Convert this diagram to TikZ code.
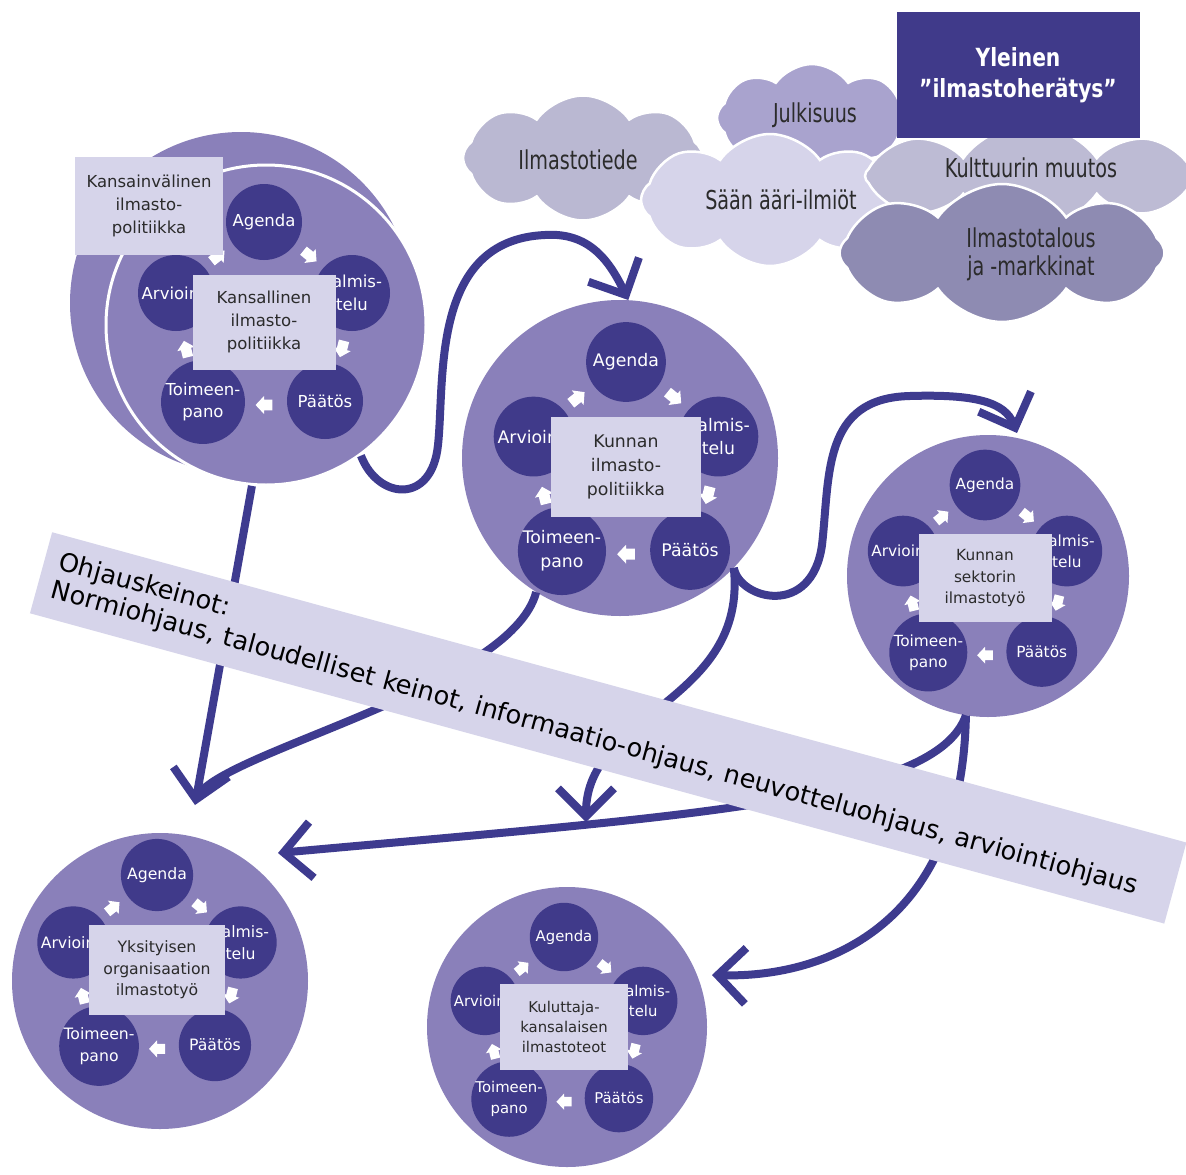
\documentclass[tikz,border=0pt]{standalone}
\usepackage{fontspec}
\setmainfont{DejaVu Sans}
\newfontfamily\cloudfont[FakeStretch=0.82]{DejaVu Sans Condensed}
\newfontfamily\titlefont[FakeStretch=0.9]{DejaVu Sans Condensed}
\usetikzlibrary{shapes.symbols,arrows.meta,calc}

\definecolor{ringfill}{HTML}{8A80BA}
\definecolor{stepfill}{HTML}{403A8A}
\definecolor{boxfill}{HTML}{D6D4EA}
\definecolor{flow}{HTML}{3E3B8F}
\definecolor{inktext}{HTML}{2B2B2B}
\definecolor{cloudA}{HTML}{BAB8D2}
\definecolor{cloudB}{HTML}{A9A3CE}
\definecolor{cloudC}{HTML}{D6D4EA}
\definecolor{cloudD}{HTML}{BDBBD4}
\definecolor{cloudE}{HTML}{8E8BB2}

\tikzset{
  ring/.style={circle, fill=ringfill, inner sep=0pt},
  stepdisc/.style={circle, fill=stepfill, text=white, align=center, inner sep=0pt},
  centrebox/.style={fill=boxfill, text=inktext, align=center, inner sep=0pt},
  puff/.style={cloud, cloud puffs=8, cloud puff arc=110, cloud ignores aspect, draw=white, line width=2.5pt, inner sep=0pt},
  cloudtext/.style={text=inktext, align=center, font=\cloudfont\fontsize{26}{28}\selectfont},
  flowline/.style={draw=flow, line width=8pt, -{Straight Barb[length=28pt,width=56pt]}},
  flowplain/.style={draw=flow, line width=8pt},
}

% small white block arrow between two steps of a cycle
\newcommand\stepmark[4]{% #1 x, #2 y, #3 direction in degrees, #4 scale
  \fill[white, shift={(#1,#2)}, rotate=#3, scale=#4]
    (-8,-5) -- (0,-5) -- (0,-8.5) -- (8,0) -- (0,8.5) -- (0,5) -- (-8,5) -- cycle;}

% five-step policy cycle with its title box in the middle
\newcommand\cycleunit[5]{% #1 prefix, #2 x, #3 y, #4 cycle radius, #5 title
  \pgfmathsetmacro\unitdisc{0.38*#4}%
  \pgfmathsetmacro\unitfont{0.165*#4}%
  \pgfmathsetmacro\unitskip{0.226*#4}%
  \pgfmathsetmacro\unitmark{#4/95}%
  \begin{scope}[shift={(#2,#3)}, every node/.append style={font=\fontsize{\unitfont}{\unitskip}\selectfont}]
    \node[stepdisc, minimum size={2*\unitdisc}] (#1-a) at (0,{-#4}) {Agenda};
    \node[stepdisc, minimum size={2*\unitdisc}] (#1-v) at ({0.88*#4},{-0.29*#4}) {Valmis-\\telu};
    \node[stepdisc, minimum size={2*\unitdisc}] (#1-p) at ({0.61*#4},{0.79*#4}) {Päätös};
    \node[stepdisc, minimum size={2*\unitdisc}] (#1-t) at ({-0.61*#4},{0.80*#4}) {Toimeen-\\pano};
    \node[stepdisc, minimum size={2*\unitdisc}] (#1-r) at ({-0.88*#4},{-0.29*#4}) {Arviointi};
    \stepmark{0.46*#4}{-0.66*#4}{-39}{\unitmark}
    \stepmark{0.78*#4}{0.27*#4}{-104}{\unitmark}
    \stepmark{0}{0.83*#4}{180}{\unitmark}
    \stepmark{-0.78*#4}{0.27*#4}{104}{\unitmark}
    \stepmark{-0.46*#4}{-0.66*#4}{39}{\unitmark}
    \node[centrebox, minimum width={1.43*#4}, minimum height={0.95*#4}] (#1-box) at (0,0) {#5};
  \end{scope}}

\begin{document}
\begin{tikzpicture}[x=1pt, y=-1pt]
\useasboundingbox (0,0) rectangle (1186,1175);
\fill[white] (0,0) rectangle (1186,1175);

% ---- clouds of the general climate awakening ----
\node[puff, fill=cloudA, minimum width=240pt, minimum height=125pt] (c-tiede) at (583,158) {};
\node[puff, fill=cloudB, minimum width=190pt, minimum height=108pt] (c-julk) at (812,118) {};
\node[puff, fill=cloudC, minimum width=258pt, minimum height=132pt] (c-saa) at (770,200) {};
\node[puff, fill=cloudD, minimum width=330pt, minimum height=105pt] (c-kult) at (1030,176) {};
\node[puff, fill=cloudE, minimum width=325pt, minimum height=138pt] (c-talous) at (1002,253) {};
\node[cloudtext] (t-tiede) at (578,160) {Ilmastotiede};
\node[cloudtext] (t-julk) at (815,115) {Julkisuus};
\node[cloudtext] (t-saa) at (781,200) {Sään ääri-ilmiöt};
\node[cloudtext] (t-kult) at (1031,168) {Kulttuurin muutos};
\node[cloudtext] (t-talous) at (1031,254) {Ilmastotalous\\ja -markkinat};
\node[fill=stepfill, minimum width=243pt, minimum height=126pt, text=white, align=center,
      font=\titlefont\bfseries\fontsize{25}{31}\selectfont] (yleinen) at (1018,75)
      {Yleinen\\”ilmastoherätys”};

% ---- national level (with the international circle behind) ----
\node[ring, minimum size=342pt] (k1b) at (241,303) {};
\node[ring, minimum size=320pt, draw=white, line width=3pt] (k1) at (266,325) {};
\cycleunit{u1}{264}{322}{100}{Kansallinen\\ilmasto-\\politiikka}
\node[centrebox, minimum width=148pt, minimum height=98pt, font=\fontsize{16.5}{22.7}\selectfont]
  (intl) at (149,206) {Kansainvälinen\\ilmasto-\\politiikka};

% ---- municipal level ----
\node[ring, minimum size=316pt] (k2) at (620,458) {};
\cycleunit{u2}{626}{467}{105}{Kunnan\\ilmasto-\\politiikka}

% ---- municipal sector ----
\node[ring, minimum size=282pt] (k3) at (988,576) {};
\cycleunit{u3}{985}{578}{93}{Kunnan\\sektorin\\ilmastotyö}

% ---- private organisations ----
\node[ring, minimum size=296pt] (k4) at (160,981) {};
\cycleunit{u4}{157}{970}{95}{Yksityisen\\organisaation\\ilmastotyö}

% ---- consumers and citizens ----
\node[ring, minimum size=280pt] (k5) at (567,1027) {};
\cycleunit{u5}{564}{1027}{90}{Kuluttaja-\\kansalaisen\\ilmastoteot}

% ---- arrow tips of the steering connectors ----
\coordinate (tipB) at (195,805);
\coordinate (joinC) at (198,795);
\coordinate (tipD) at (1017,433);
\coordinate (tipE) at (586,822);
\coordinate (tipF1) at (278,853);
\coordinate (tipF2) at (712,975);

% ---- connectors ----
\draw[flowline] (k1.-54) .. controls (378,500) and (432,505) .. (438,445)
  .. controls (445,380) and (430,240) .. (545,235)
  .. controls (590,232) and (610,262) .. (k2.87);
\draw[flowline] (k1.265) -- (tipB);
\draw[flowplain] (k2.-122) .. controls +(-25,95) and +(30,-45) .. (joinC);
\draw[flowline] (k2.-44) .. controls +(6,32) and (812,618) .. (822,545)
  .. controls (830,475) and (822,398) .. (910,396)
  .. controls (975,394) and (1005,402) .. (tipD);
\draw[flowline] (k2.-44) .. controls +(14,135) and +(0,-110) .. (tipE);
\draw[flowline] (k3.-99) .. controls +(-30,85) and +(420,-38) .. (tipF1);
\draw[flowline] (k3.-99) .. controls +(-4,215) and +(108,3) .. (tipF2);

% ---- steering instruments banner ----
\node[fill=boxfill, rotate=-15.3, anchor=north west, minimum width=1176pt, minimum height=84pt,
      text width=1146pt, inner xsep=15pt, align=left, text=black,
      font=\fontsize{25.6}{29}\selectfont] (ohjaus) at (52,532)
  {Ohjauskeinot:\\Normiohjaus, taloudelliset keinot, informaatio-ohjaus, neuvotteluohjaus, arviointiohjaus};
\end{tikzpicture}
\end{document}
